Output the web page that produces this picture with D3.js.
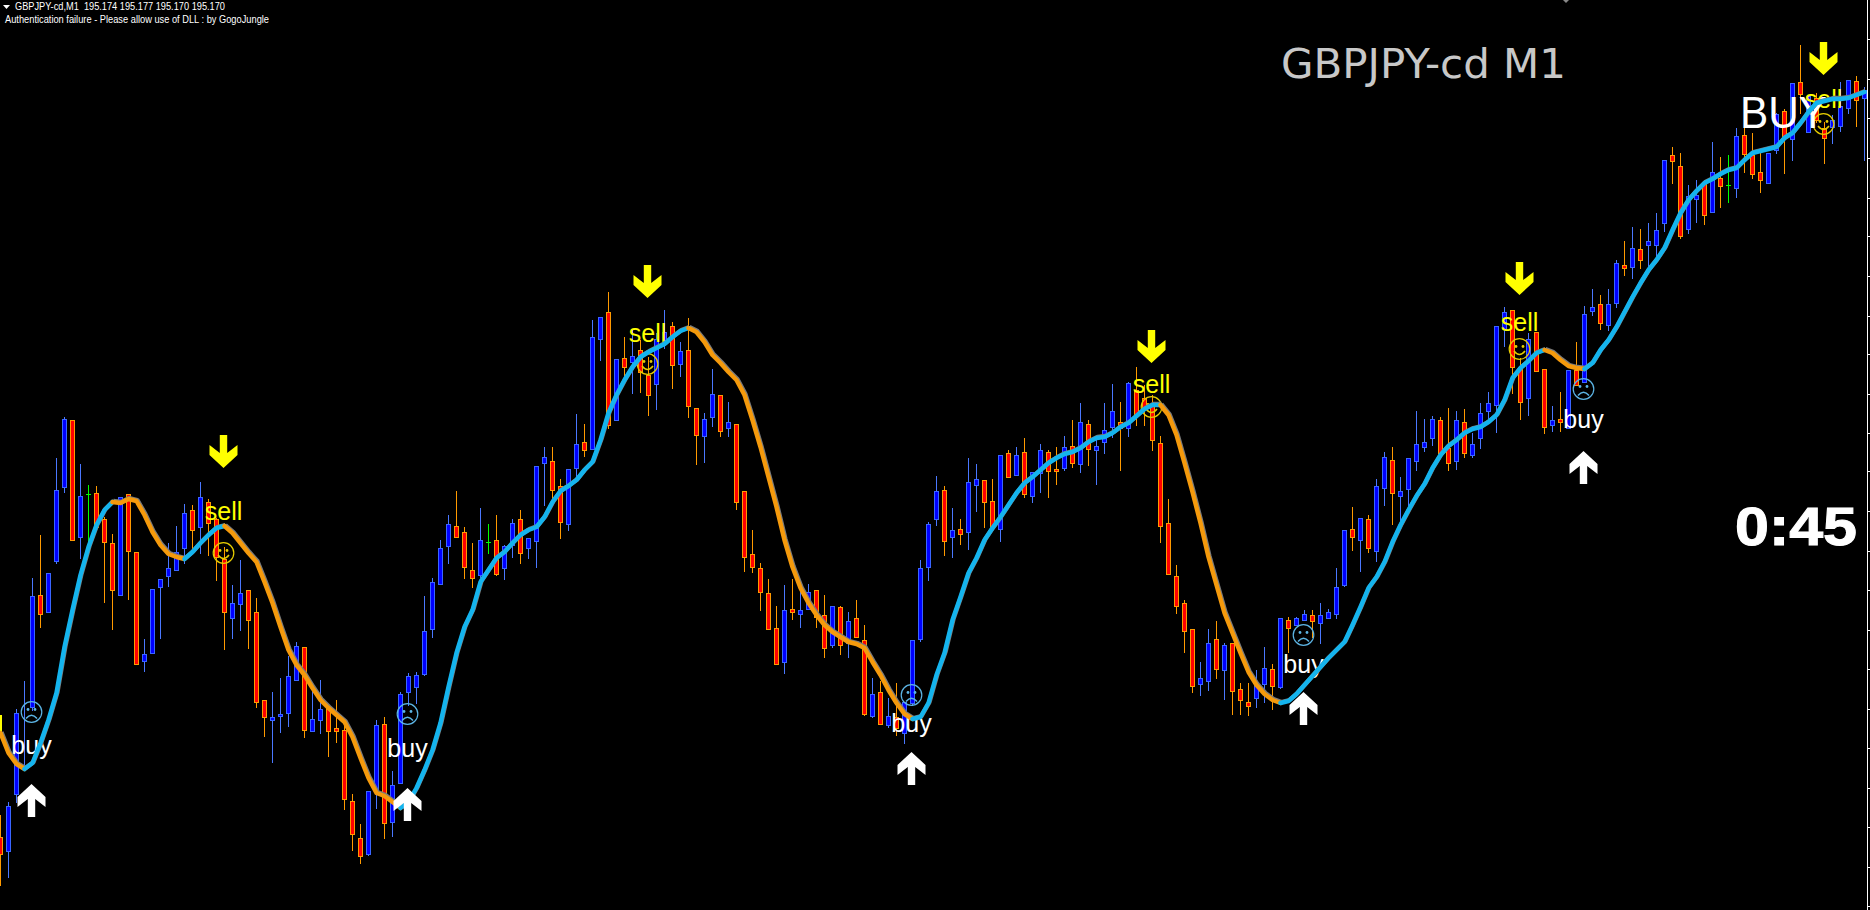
<!DOCTYPE html>
<html><head><meta charset="utf-8">
<script src="https://cdn.jsdelivr.net/npm/d3@7"></script>
<style>html,body{margin:0;padding:0;background:#000;overflow:hidden}svg{display:block}text{font-family:"Liberation Sans",Arial,sans-serif;white-space:pre}</style>
</head><body><div id="c"></div>
<script>
// All prices are in points above 194.000 (1 point = 0.001 JPY)
const openPts=[425,411,468,494,555,667,650,701,775,842,725,768,769,743,719,667,768,710,601,609,
675,686,692,714,752,735,760,743,703,644,658,672,650,562,542,546,549,582,615,531,
542,554,534,532,461,424,408,470,538,440,479,570,575,588,633,678,716,736,730,692,
687,720,722,694,717,743,714,721,799,801,776,738,794,820,813,923,950,842,904,900,
912,887,878,919,936,898,912,854,826,845,867,834,838,771,708,694,669,634,600,653,
648,653,672,647,617,655,619,644,622,546,570,537,545,529,559,623,695,743,772,725,
733,730,777,782,761,733,809,787,810,766,789,810,793,794,816,798,838,812,820,835,
840,834,872,864,857,819,739,686,659,633,578,581,623,592,619,573,560,564,578,593,
575,642,637,642,647,639,644,648,677,733,722,743,711,774,802,766,773,801,815,824,
842,814,801,840,807,824,851,857,933,952,894,864,930,893,837,843,834,892,880,951,
958,937,959,997,995,1013,1017,1017,1039,1107,1096,1033,1063,1080,1050,1084,1077,1074,1127,1107,
1090,1079,1112,1151,1123,1180,1130,1164,1134,1135,1136,1154,1181,1164];
const closePts=[408,456,549,496,666,648,689,772,843,722,766,768,735,720,672,765,711,598,608,673,
683,694,710,749,732,765,739,705,650,659,669,642,560,545,545,548,586,616,532,543,
553,531,531,463,428,406,471,537,439,477,568,586,587,631,680,714,738,725,695,684,
722,720,688,716,739,709,724,796,805,772,740,793,818,812,925,945,837,903,895,906,
890,867,923,930,897,911,856,827,843,868,831,840,760,705,695,670,633,598,652,650,
652,670,645,614,656,617,641,625,548,568,538,546,534,560,622,694,738,771,721,732,
728,780,783,760,734,807,785,807,768,790,812,791,791,815,799,840,813,816,832,851,
834,879,848,854,822,736,688,656,631,576,584,619,593,617,571,562,556,579,594,576,
644,634,644,648,641,647,650,675,732,725,744,714,776,805,769,771,804,818,820,843,
809,799,842,809,818,849,859,936,950,895,860,923,891,835,842,840,892,877,948,955,
939,958,999,994,1014,1002,1021,1032,1102,1101,1026,1066,1067,1047,1090,1076,1077,1126,1108,1088,
1082,1109,1148,1124,1179,1168,1166,1142,1124,1142,1156,1182,1162,1172];
const highPts=[447,460,553,581,684,727,689,804,845,842,798,777,776,745,728,765,768,710,623,673,
683,719,736,758,757,780,763,744,715,677,702,672,664,562,570,584,606,620,615,575,
582,554,562,537,468,438,471,542,545,491,570,589,590,666,684,722,747,771,735,719,
754,738,747,717,743,752,724,796,815,815,783,793,848,838,942,945,970,903,925,932,
922,905,929,952,940,920,944,854,849,893,867,860,838,771,732,699,683,656,677,683,
672,678,672,667,656,656,650,662,637,584,581,564,579,560,622,702,740,786,776,754,
743,804,798,782,783,807,812,815,824,790,818,812,815,826,842,859,842,824,859,878,
860,880,895,877,867,826,763,697,662,633,600,633,641,619,619,579,579,592,615,598,
644,645,645,652,652,659,653,694,732,755,744,747,783,810,815,785,804,851,843,846,
845,854,851,853,829,859,870,936,955,952,904,929,930,893,856,870,892,920,956,973,
967,973,1002,1021,1035,1033,1039,1049,1102,1115,1109,1077,1082,1082,1120,1105,1107,1134,1134,1129,
1109,1109,1149,1153,1179,1217,1167,1169,1140,1147,1180,1182,1186,1175];
const lowPts=[377,385,460,492,552,635,650,699,770,722,704,719,732,660,633,667,663,598,591,609,
624,676,692,699,712,709,707,682,613,624,632,614,555,526,500,530,536,582,525,531,
529,506,520,453,412,399,407,454,424,426,479,557,559,587,625,678,699,725,684,675,
685,709,687,683,705,699,704,695,757,762,724,732,785,806,813,902,834,842,882,869,
870,847,853,914,874,886,845,798,800,836,826,826,753,691,690,652,633,598,589,643,
635,653,635,605,615,608,605,625,547,545,538,535,527,519,557,621,682,737,707,705,
718,713,751,735,734,721,785,787,765,760,770,765,778,792,795,790,797,778,809,825,
792,826,837,837,812,720,688,649,610,570,567,572,584,563,548,548,547,555,560,553,
574,610,637,642,625,619,644,644,676,712,691,710,701,757,738,740,754,792,811,817,
809,792,793,805,805,814,844,830,916,869,843,847,891,829,831,831,834,877,880,947,
933,932,955,987,984,994,994,1004,1031,1079,1024,1029,1040,1038,1050,1055,1060,1065,1090,1084,
1070,1079,1109,1089,1102,1149,1130,1140,1099,1119,1131,1149,1136,1102];
const averagePts=[529,509,498,493,499,519,542,569,615,652,687,715,737,752,760,759,763,761,747,730,
717,708,705,703,710,719,727,734,736,729,719,709,700,680,659,635,612,597,587,574,
562,554,547,540,525,504,484,469,466,460,454,460,474,492,512,539,575,609,635,652,
680,692,704,710,719,727,732,735,745,760,771,776,782,792,800,822,849,867,882,895,
905,910,914,918,925,931,934,930,920,907,899,890,882,867,842,815,785,755,722,695,
674,659,647,637,630,625,620,618,614,600,587,572,559,548,543,545,559,587,609,642,
665,689,704,722,734,745,757,769,779,785,792,799,804,808,810,814,820,824,825,829,
835,839,846,853,857,857,847,827,799,770,739,705,677,649,629,609,590,577,568,562,
559,561,568,577,586,595,604,612,620,637,655,674,685,700,720,737,752,766,778,794,
807,816,822,829,833,835,840,847,862,884,894,901,909,912,909,902,896,894,893,899,
912,922,935,950,965,979,992,1002,1014,1032,1049,1062,1071,1079,1083,1088,1092,1094,1102,1109,
1111,1113,1115,1124,1129,1139,1150,1159,1161,1163,1163,1164,1167,1170];
const trendTurns=[0,3,14,23,28,50,86,114,145,160,193,198,233];
const sellIdx=[28,81,144,190,228];
const sellTipPts=[794,964,899,967,1187];
const sellLabelPts=[742,920,869,931,1154];
const sellFacePts=[709,898,855,913,1138];
const buyIdx=[4,51,114,163,198];
const buyTipPts=[478,474,510,570,811];
const buyLabelPts=[508,505,530,589,834];
const buyFacePts=[550,548,567,627,873];
const priceTicks=[1224,1184,1145,1105,1065,1027,987,947,909,869,830,792,752,712,673,633,594,554,515,475,436,396,357];
const header="GBPJPY-cd,M1  195.174 195.177 195.170 195.170";
const notice="Authentication failure - Please allow use of DLL : by GogoJungle";
const title="GBPJPY-cd M1", signal="BUY", timer="0:45";

const W=1870,H=910;
const up="#0000ff",upEdge="#3a66ff",dn="#ff0000",dnEdge="#ff9a00",doji="#00ff00";
const blue="#14b4ee",orange="#f59a0c";
const x=d3.scaleLinear().domain([0,233]).range([0.5,1864.5]);
const y=d3.scaleLinear().domain([-90,1262]).range([1352,0]);
const price=d=>Math.round(y(d));
const svg=d3.select("#c").append("svg").attr("width",W).attr("height",H).style("background","#000");

// axis
const axis=d3.axisRight(y).tickValues(priceTicks).tickSize(3).tickFormat("");
const ga=svg.append("g").attr("transform","translate(1867.5,0.5)").call(axis);
ga.selectAll("path").remove();
ga.selectAll("line").attr("stroke","#fff").attr("shape-rendering","crispEdges");
svg.append("line").attr("x1",1867.5).attr("x2",1867.5).attr("y1",0).attr("y2",H).attr("stroke","#fff").attr("shape-rendering","crispEdges");

// candles
const bars=openPts.map((o,i)=>({i,o,c:closePts[i],h:highPts[i],l:lowPts[i]}));
const kind=d=>d.c>d.o?"u":d.c<d.o?"d":"g";
const gc=svg.append("g").attr("shape-rendering","crispEdges");
gc.selectAll("line").data(bars).join("line")
 .attr("x1",d=>x(d.i)).attr("x2",d=>x(d.i)).attr("y1",d=>price(d.h)).attr("y2",d=>price(d.l)+1)
 .attr("stroke",d=>({u:"#4a78ff",d:dnEdge,g:doji})[kind(d)]);
gc.selectAll("rect").data(bars.filter(d=>kind(d)!=="g")).join("rect")
 .attr("x",d=>x(d.i)-2).attr("width",4)
 .attr("y",d=>price(Math.max(d.o,d.c))+.5).attr("height",d=>Math.max(1,price(Math.min(d.o,d.c))-price(Math.max(d.o,d.c))))
 .attr("fill",d=>kind(d)==="u"?up:dn).attr("stroke",d=>kind(d)==="u"?upEdge:dnEdge);
gc.selectAll("line.t").data(bars.filter(d=>kind(d)==="g")).join("line").attr("class","t")
 .attr("x1",d=>x(d.i)-2.5).attr("x2",d=>x(d.i)+2.5).attr("y1",d=>price(d.o)+.5).attr("y2",d=>price(d.o)+.5).attr("stroke",doji);

// labels and faces
const L=(s,tx,ty,size,fill,extra={})=>{const t=svg.append("text").attr("x",tx).attr("y",ty).attr("font-size",size).attr("fill",fill).text(s);
  Object.entries(extra).forEach(([k,v])=>t.attr(k,v));return t;};
const face=(cx,cy,col,happy)=>{const g=svg.append("g").attr("transform",`translate(${cx},${cy})`).attr("fill","none").attr("stroke",col).attr("stroke-width",1.2);
  g.append("circle").attr("r",10.3);
  g.append("circle").attr("cx",-3.5).attr("cy",-2.5).attr("r",1.4).attr("fill",col).attr("stroke","none");
  g.append("circle").attr("cx",3.5).attr("cy",-2.5).attr("r",1.4).attr("fill",col).attr("stroke","none");
  g.append("path").attr("stroke-width",1.5).attr("d",happy?"M-5.5,2 Q0,9 5.5,2":"M-5.5,6.5 Q0,0 5.5,6.5");};
sellIdx.forEach((s,k)=>{
  L("sell",x(s)-1,price(sellLabelPts[k]),25,"#ffff00",{"text-anchor":"middle"});
  face(x(s)-1,price(sellFacePts[k]),"#e6cc00",true);
});
buyIdx.forEach((s,k)=>{
  L("buy",x(s)-1,price(buyLabelPts[k]),25,"#ffffff",{"text-anchor":"middle"});
  face(x(s)-1,price(buyFacePts[k]),"#5cb4e4",false);
});
L(signal,1740,128,44,"#ffffff",{textLength:87,lengthAdjust:"spacingAndGlyphs"});

// moving average, coloured by trend
const line=d3.line().x((d,i)=>x(d.i)).y(d=>y(d.v));
const pts=averagePts.map((v,i)=>({i,v}));
const seg=d3.pairs(trendTurns).map(([a,b],k)=>({pts:pts.slice(a,b+1),col:k%2?blue:orange}));
svg.append("path").attr("d",`M0.5,${y(529)} L0.5,${y(547)}`).attr("stroke","#ffff00").attr("stroke-width",3).attr("fill","none");
svg.append("g").attr("transform","translate(0.9,-0.9)").selectAll("path").data(seg).join("path")
  .attr("d",d=>line(d.pts)).attr("fill","none").attr("stroke","#7a7a7a").attr("stroke-width",4.5).attr("stroke-linejoin","round");
svg.append("g").selectAll("path").data(seg).join("path")
  .attr("d",d=>line(d.pts)).attr("fill","none").attr("stroke",d=>d.col).attr("stroke-width",4.5).attr("stroke-linejoin","round").attr("stroke-linecap","round");

// arrows
const downShape="M-3.7,-33 L3.7,-33 L3.7,-15 L14,-23 L14,-13 L0,0 L-14,-13 L-14,-23 L-3.7,-15 Z";
const upShape="M-3.7,33 L3.7,33 L3.7,15 L14,23 L14,13 L0,0 L-14,13 L-14,23 L-3.7,15 Z";
sellIdx.forEach((s,k)=>svg.append("path").attr("d",downShape).attr("transform",`translate(${x(s)-1},${price(sellTipPts[k])})`).attr("fill","#ffff00"));
buyIdx.forEach((s,k)=>svg.append("path").attr("d",upShape).attr("transform",`translate(${x(s)-1},${price(buyTipPts[k])})`).attr("fill","#ffffff"));

// text
L(title,1281,78,40,"#c8c8c8",{textLength:285,lengthAdjust:"spacingAndGlyphs",style:"font-family:'DejaVu Sans'"});
L(timer,1735,545,53,"#ffffff",{"font-weight":"bold",textLength:122,lengthAdjust:"spacingAndGlyphs",stroke:"#ffffff","stroke-width":1});
L(header,15,10,11,"#ffffff",{textLength:210,lengthAdjust:"spacingAndGlyphs"});
L(notice,5,23,11,"#ffffff",{textLength:264,lengthAdjust:"spacingAndGlyphs"});
svg.append("path").attr("d","M3,5 L10,5 L6.5,9 Z").attr("fill","#fff");
svg.append("path").attr("d","M1563,0 L1569,0 L1566,3 Z").attr("fill","#888");
</script></body></html>
